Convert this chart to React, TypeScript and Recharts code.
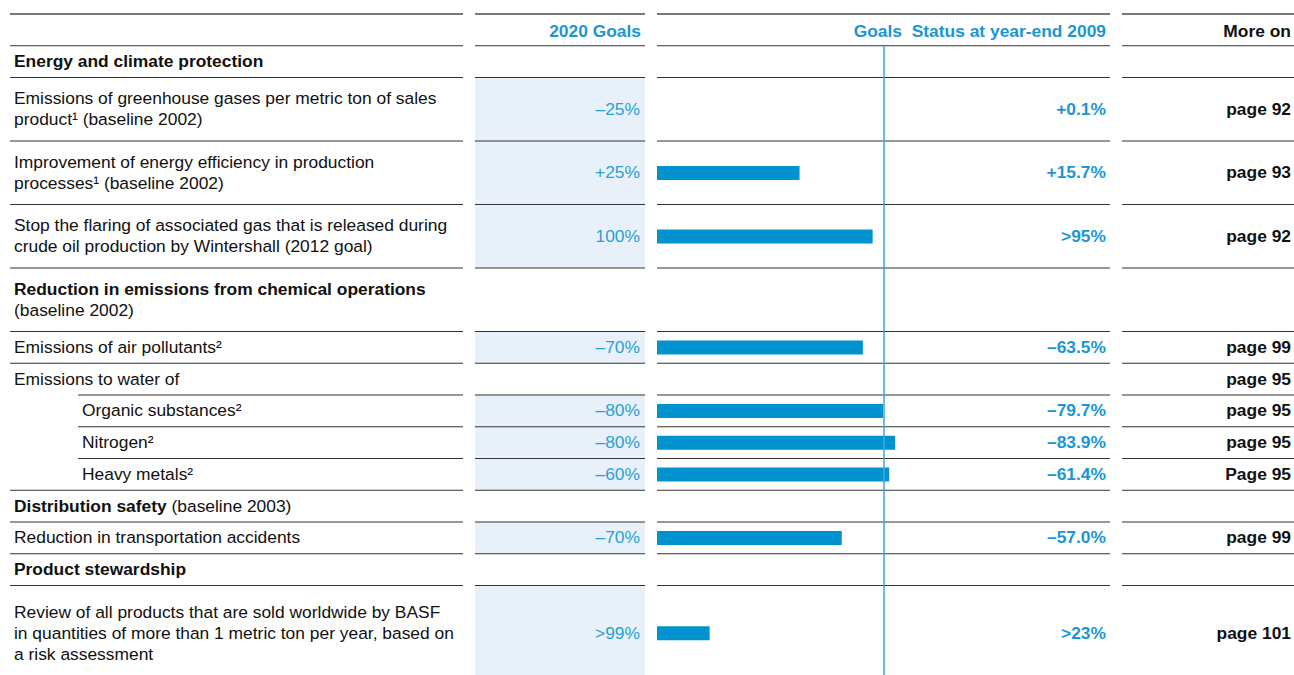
import React from "react";
import { BarChart, Bar, XAxis, YAxis, ReferenceLine } from "recharts";

const W = 1294;
const H = 675;
const FONT = '"Liberation Sans", Arial, Helvetica, sans-serif';
const FS = 17.4;
const BLUE = "#1b96d4";
const VALUE_BLUE = "#2a9fd8";
const BAR_BLUE = "#0093cf";
const SHADE = "#e8f1f9";
const RULE = "#333";

// table rows (** marks bold text)
const rowTexts: string[][] = [
  ["**Energy and climate protection**"],
  ["Emissions of greenhouse gases per metric ton of sales", "product¹ (baseline 2002)"],
  ["Improvement of energy efficiency in production", "processes¹ (baseline 2002)"],
  ["Stop the flaring of associated gas that is released during", "crude oil production by Wintershall (2012 goal)"],
  ["**Reduction in emissions from chemical operations**", "(baseline 2002)"],
  ["Emissions of air pollutants²"],
  ["Emissions to water of"],
  ["Organic substances²"],
  ["Nitrogen²"],
  ["Heavy metals²"],
  ["**Distribution safety** (baseline 2003)"],
  ["Reduction in transportation accidents"],
  ["**Product stewardship**"],
  ["Review of all products that are sold worldwide by BASF", "in quantities of more than 1 metric ton per year, based on", "a risk assessment"],
];
const rowSpans = [1, 2, 2, 2, 2, 1, 1, 1, 1, 1, 1, 1, 1, 3];
const indentRows = [7, 8, 9];
const goals2020 = [null, "–25%", "+25%", "100%", null, "–70%", null, "–80%", "–80%", "–60%", null, "–70%", null, ">99%"];
const status2009 = [null, "+0.1%", "+15.7%", ">95%", null, "–63.5%", null, "–79.7%", "–83.9%", "–61.4%", null, "–57.0%", null, ">23%"];
const moreOn = [null, "page 92", "page 93", "page 92", null, "page 99", "page 95", "page 95", "page 95", "Page 95", null, "page 99", null, "page 101"];
// share of the 2020 goal reached by year-end 2009, in %
const achievement = [null, null, 62.8, 95, null, 90.7, null, 99.6, 104.9, 102.3, null, 81.4, null, 23.2];

const TABLE_TOP = 45.75;
const UNIT = 31.75;
const TOTAL_UNITS = rowSpans.reduce((a, b) => a + b, 0);
const starts: number[] = [];
rowSpans.reduce((acc, s) => {
  starts.push(acc);
  return acc + s;
}, 0);

const COLS = {
  desc: [10, 463],
  goals: [475, 645],
  bars: [657, 1110],
  more: [1122, 1294],
};

const barData = achievement
  .map((v, i) => ({ pos: starts[i] + rowSpans[i] / 2, value: v }))
  .filter((d) => d.value != null);

function Rich({ text, x, y, anchor, fill }: { text: string; x: number; y: number; anchor?: string; fill?: string }) {
  const parts = text.split("**");
  return (
    <text x={x} y={y} textAnchor={anchor || "start"} fill={fill || "#111"} fontSize={FS} fontFamily={FONT}>
      {parts.map((p, i) =>
        p ? (
          <tspan key={i} fontWeight={i % 2 === 1 ? 700 : 400}>
            {p}
          </tspan>
        ) : null
      )}
    </text>
  );
}

const rowY = (u: number) => TABLE_TOP + u * UNIT;

function Table() {
  const lines: React.ReactNode[] = [];
  // top rules of header
  Object.values(COLS).forEach(([x1, x2], k) => {
    lines.push(<line key={"t" + k} x1={x1} x2={x2} y1={14} y2={14} stroke="#7a7a7a" strokeWidth={2} />);
  });
  // body rules
  for (let r = 0; r < rowSpans.length; r++) {
    const y = rowY(starts[r]);
    Object.entries(COLS).forEach(([name, [x1, x2]]) => {
      const left = name === "desc" && indentRows.includes(r) ? 78 : x1;
      lines.push(<line key={`r${r}${name}`} x1={left} x2={x2} y1={y} y2={y} stroke={RULE} strokeWidth={1.2} />);
    });
  }

  return (
    <svg width={W} height={H} style={{ position: "absolute", left: 0, top: 0 }}>
      {rowSpans.map((s, r) =>
        goals2020[r] ? (
          <rect key={"s" + r} x={COLS.goals[0]} width={COLS.goals[1] - COLS.goals[0]} y={rowY(starts[r])} height={s * UNIT} fill={SHADE} />
        ) : null
      )}
      {lines}

      <text x={641} y={36.5} textAnchor="end" fill={BLUE} fontWeight={700} fontSize={FS} fontFamily={FONT}>2020 Goals</text>
      <text x={902} y={36.5} textAnchor="end" fill={BLUE} fontWeight={700} fontSize={FS} fontFamily={FONT}>Goals</text>
      <text x={1106} y={36.5} textAnchor="end" fill={BLUE} fontWeight={700} fontSize={FS} fontFamily={FONT}>Status at year-end 2009</text>
      <text x={1291} y={36.5} textAnchor="end" fill="#111" fontWeight={700} fontSize={FS} fontFamily={FONT}>More on</text>

      {rowTexts.map((ls, r) => {
        const c = rowY(starts[r] + rowSpans[r] / 2);
        const x = indentRows.includes(r) ? 82 : 14;
        return (
          <g key={"row" + r}>
            {ls.map((t, i) => (
              <Rich key={i} text={t} x={x} y={c + (i - (ls.length - 1) / 2) * 21 + 5.5} />
            ))}
            {goals2020[r] && (
              <text x={640} y={c + 5.5} textAnchor="end" fill={VALUE_BLUE} fontSize={FS} fontFamily={FONT}>{goals2020[r]}</text>
            )}
            {status2009[r] && (
              <text x={1106} y={c + 5.5} textAnchor="end" fill={BLUE} fontWeight={700} fontSize={FS} fontFamily={FONT}>{status2009[r]}</text>
            )}
            {moreOn[r] && (
              <text x={1291} y={c + 5.5} textAnchor="end" fill="#111" fontWeight={700} fontSize={FS} fontFamily={FONT}>{moreOn[r]}</text>
            )}
          </g>
        );
      })}
    </svg>
  );
}

export default function App() {
  const chartH = TABLE_TOP + TOTAL_UNITS * UNIT;
  return (
    <div style={{ position: "absolute", left: 0, top: 0, width: W, height: H, overflow: "hidden", background: "#fff" }}>
      <Table />
      <div style={{ position: "absolute", left: 0, top: 0 }}>
        <BarChart
          width={W}
          height={chartH}
          layout="vertical"
          data={barData}
          margin={{ top: TABLE_TOP, right: W - COLS.bars[1] - 1, bottom: 0, left: COLS.bars[0] }}
        >
          <XAxis type="number" domain={[0, 200]} hide />
          <YAxis type="number" dataKey="pos" domain={[0, TOTAL_UNITS]} ticks={[0, TOTAL_UNITS]} hide />
          <Bar dataKey="value" fill={BAR_BLUE} barSize={14} isAnimationActive={false} />
          <ReferenceLine x={100} stroke="#41a6de" strokeWidth={1.5} />
        </BarChart>
      </div>
    </div>
  );
}
